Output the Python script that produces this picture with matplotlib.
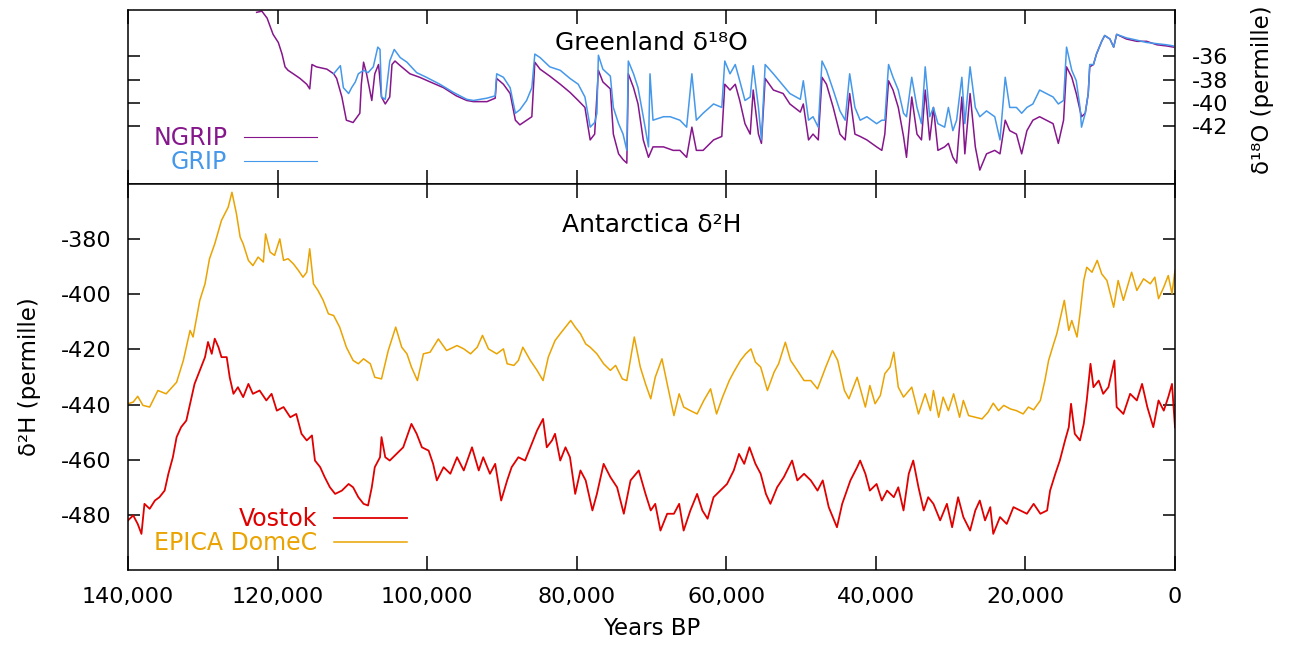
import numpy as np
import matplotlib
matplotlib.use('Agg')
import matplotlib.pyplot as plt
from matplotlib.ticker import FuncFormatter

plt.rcParams['axes.unicode_minus'] = False

# ---- data (ages in kyr BP) ----
ngrip_age = [122.8, 122.1, 121.4, 120.6, 119.9, 119.4, 119.0, 118.6, 117.9, 117.0,
             116.1, 115.7, 115.4, 114.8, 113.4, 112.5, 112.1, 111.4, 110.8, 109.9,
             109.0, 108.8, 108.5, 108.1, 107.4, 107.0, 106.5, 106.1, 105.6, 105.0,
             104.7, 104.3, 103.6, 102.3, 101.0, 99.6, 97.8, 96.1, 94.7, 93.8,
             92.0, 90.9, 90.7, 89.8, 88.9, 88.2, 87.6, 86.7, 86.0, 85.6,
             84.9, 83.6, 82.2, 80.9, 79.8, 78.9, 78.2, 77.6, 77.1, 76.5,
             75.5, 75.1, 74.4, 73.8, 73.3, 73.1, 72.4, 71.8, 71.1, 70.4,
             69.8, 68.4, 67.1, 66.2, 65.3, 64.6, 64.0, 63.1, 61.7, 60.6,
             60.2, 59.5, 58.8, 58.2, 57.5, 56.8, 56.4, 55.7, 55.3, 54.8,
             53.7, 52.4, 51.5, 50.1, 49.7, 49.0, 48.4, 47.7, 47.2, 46.6,
             45.7, 44.8, 44.1, 43.5, 42.8, 42.1, 41.2, 39.9, 39.2, 38.8,
             38.3, 37.7, 37.0, 36.3, 35.9, 35.2, 34.5, 33.9, 33.4, 32.8,
             32.3, 31.7, 30.8, 30.3, 29.7, 29.2, 28.5, 28.1, 27.4, 26.7,
             26.1, 25.2, 24.1, 23.4, 22.7, 22.1, 21.2, 20.5, 19.8, 19.0,
             18.1, 17.2, 16.3, 15.6, 14.9, 14.5, 13.8, 13.2, 12.5, 12.0,
             11.6, 11.4, 10.9, 10.5, 9.8, 9.4, 8.7, 8.2, 7.8, 6.5,
             5.1, 3.8, 2.4, 1.1, 0.2]
ngrip_d18o = [-32.2, -32.1, -32.7, -34.1, -34.8, -35.8, -36.9, -37.2, -37.5, -37.9,
              -38.4, -38.8, -36.7, -36.9, -37.1, -37.5, -37.9, -39.5, -41.5, -41.7,
              -40.9, -38.4, -36.5, -37.5, -39.8, -37.5, -36.7, -39.5, -40.1, -39.5,
              -36.7, -36.4, -36.8, -37.5, -37.8, -38.2, -38.7, -39.4, -39.8, -39.9,
              -39.9, -39.6, -37.9, -38.4, -39.2, -41.5, -41.9, -41.5, -41.2, -36.5,
              -37.1, -37.7, -38.4, -39.1, -39.8, -40.4, -43.2, -42.7, -37.2, -38.2,
              -38.8, -42.7, -44.4, -44.9, -45.2, -37.5, -38.7, -40.1, -43.2, -44.7,
              -43.8, -43.8, -44.1, -44.1, -44.7, -42.1, -44.1, -44.1, -43.2, -42.9,
              -38.4, -38.9, -38.4, -39.8, -41.8, -42.7, -38.9, -42.7, -43.5, -37.9,
              -38.9, -39.2, -40.1, -40.8, -40.1, -43.2, -42.7, -43.2, -37.8, -38.4,
              -40.4, -42.7, -43.2, -39.2, -42.7, -42.9, -43.2, -43.8, -44.1, -42.7,
              -38.1, -38.9, -40.4, -42.9, -44.7, -39.5, -42.7, -43.2, -38.9, -43.2,
              -40.4, -44.1, -43.8, -43.5, -44.7, -45.2, -39.5, -44.4, -39.2, -43.8,
              -45.8, -44.4, -44.1, -44.4, -41.5, -42.4, -42.7, -44.4, -42.4, -41.5,
              -41.2, -41.5, -41.8, -43.5, -41.5, -36.9, -37.8, -39.2, -41.2, -40.9,
              -39.2, -36.9, -36.7, -35.8, -34.7, -34.2, -34.5, -35.2, -34.1, -34.5,
              -34.7, -34.7, -35.0, -35.1, -35.2]

grip_age = [112.5, 111.6, 111.2, 110.5, 110.1, 109.6, 109.2, 108.5, 107.9, 107.2,
            106.6, 106.3, 106.1, 105.6, 105.2, 105.0, 104.4, 103.6, 102.7, 101.4,
            100.1, 98.3, 96.5, 94.7, 93.8, 92.0, 90.9, 90.7, 89.8, 88.9,
            88.2, 87.6, 86.7, 86.0, 85.6, 84.9, 83.6, 82.2, 80.9, 79.8,
            78.9, 78.2, 77.6, 77.3, 77.1, 76.5, 75.5, 75.1, 74.4, 73.8,
            73.3, 73.1, 72.4, 71.8, 71.1, 70.4, 70.2, 69.8, 68.4, 67.5,
            66.2, 65.3, 64.6, 64.0, 63.1, 61.7, 60.6, 60.2, 59.5, 58.8,
            58.2, 57.5, 56.8, 56.4, 55.7, 55.3, 54.8, 53.7, 52.4, 51.5,
            50.1, 49.7, 49.0, 48.4, 47.7, 47.2, 46.6, 45.7, 44.8, 44.1,
            43.5, 42.8, 42.1, 41.2, 39.9, 39.2, 38.8, 38.3, 37.7, 37.0,
            36.3, 35.9, 35.2, 34.5, 33.9, 33.4, 32.8, 32.3, 31.7, 30.8,
            30.3, 29.7, 29.2, 28.5, 28.1, 27.4, 26.7, 26.1, 25.2, 24.1,
            23.4, 22.7, 22.1, 21.2, 20.5, 19.8, 19.0, 18.1, 17.2, 16.3,
            15.6, 14.9, 14.5, 13.8, 13.2, 12.7, 12.5, 12.0, 11.6, 11.4,
            10.9, 10.5, 9.8, 9.4, 8.7, 8.2, 7.8, 6.5, 5.1, 3.8,
            2.4, 1.1, 0.2]
grip_d18o = [-37.5, -36.8, -38.7, -39.2, -38.7, -38.2, -37.5, -37.2, -37.4, -36.9,
             -35.2, -35.4, -39.5, -39.7, -37.5, -36.4, -35.4, -36.1, -36.5, -37.4,
             -37.8, -38.4, -39.1, -39.7, -39.8, -39.6, -39.4, -37.5, -37.8, -38.7,
             -40.9, -40.6, -39.8, -38.7, -35.8, -36.1, -36.9, -37.2, -37.9, -38.4,
             -39.5, -42.1, -41.7, -40.9, -35.9, -37.1, -37.7, -40.4, -41.8, -42.7,
             -44.1, -36.4, -37.5, -38.7, -41.2, -43.8, -37.5, -41.5, -41.2, -41.2,
             -41.5, -42.1, -37.5, -41.5, -40.9, -40.1, -40.4, -36.4, -37.5, -36.7,
             -38.1, -39.8, -39.5, -36.8, -40.4, -43.2, -36.7, -37.5, -38.5, -39.2,
             -39.7, -38.1, -41.5, -41.2, -42.1, -36.4, -37.2, -38.9, -40.7, -41.5,
             -37.5, -40.4, -41.5, -41.2, -41.8, -41.5, -41.5, -36.7, -37.8, -38.9,
             -40.9, -41.2, -37.8, -40.4, -41.8, -36.9, -41.2, -40.4, -41.8, -42.1,
             -40.4, -42.4, -41.5, -37.8, -41.8, -36.9, -40.4, -41.2, -40.7, -41.2,
             -43.2, -37.8, -40.4, -40.4, -40.9, -40.4, -40.1, -38.9, -39.2, -39.5,
             -40.1, -39.8, -35.2, -37.2, -38.1, -40.4, -42.1, -40.9, -39.2, -36.7,
             -36.7, -35.8, -34.7, -34.2, -34.5, -35.2, -34.1, -34.4, -34.6, -34.8,
             -34.9, -35.0, -35.1]

vostok_age = [140.0, 139.3, 138.7, 138.2, 137.8, 137.1, 136.4, 135.8, 135.1, 134.6,
              134.0, 133.5, 132.9, 132.2, 131.7, 131.1, 130.4, 129.7, 129.3, 128.8,
              128.4, 127.9, 127.5, 126.8, 126.4, 125.9, 125.3, 124.6, 123.9, 123.3,
              122.4, 121.5, 120.8, 120.1, 119.2, 118.3, 117.5, 116.8, 116.1, 115.4,
              115.0, 114.3, 113.7, 113.0, 112.3, 111.4, 110.5, 109.9, 109.2, 108.5,
              107.9, 107.4, 107.0, 106.3, 106.1, 105.6, 105.0, 104.1, 103.2, 102.1,
              101.4, 100.7, 99.8, 99.2, 98.7, 97.8, 96.9, 96.0, 95.1, 94.0,
              93.1, 92.5, 91.6, 90.9, 90.1, 89.3, 88.7, 87.8, 86.9, 86.0,
              85.3, 84.5, 84.0, 83.3, 82.9, 82.2, 81.5, 80.9, 80.2, 79.5,
              78.8, 77.9, 77.3, 76.4, 75.5, 74.6, 73.7, 72.8, 71.7, 70.8,
              70.1, 69.5, 68.8, 67.9, 67.0, 66.3, 65.7, 64.8, 63.9, 63.2,
              62.5, 61.7, 60.8, 59.9, 59.0, 58.3, 57.6, 56.9, 56.1, 55.4,
              54.7, 54.1, 53.2, 52.3, 51.2, 50.5, 49.6, 48.7, 47.8, 47.1,
              46.3, 45.2, 44.5, 43.4, 42.5, 42.1, 41.4, 40.8, 39.9, 39.2,
              38.5, 37.6, 37.0, 36.3, 35.6, 35.0, 34.3, 33.6, 33.0, 32.3,
              31.4, 30.5, 29.8, 29.0, 28.3, 27.4, 26.7, 26.1, 25.4, 24.7,
              24.3, 23.4, 22.5, 21.6, 20.7, 19.8, 18.9, 18.0, 17.1, 16.7,
              16.0, 15.4, 14.7, 14.2, 13.9, 13.4, 12.7, 12.2, 11.8, 11.3,
              10.9, 10.2, 9.6, 8.9, 8.1, 7.8, 6.9, 6.0, 5.1, 4.4,
              3.7, 2.9, 2.2, 1.5, 0.9, 0.4, 0.0]
vostok_dD = [-482.0, -480.2, -483.3, -486.9, -476.0, -477.8, -474.8, -473.6, -471.2, -465.1,
             -459.1, -451.8, -448.2, -445.8, -439.7, -432.5, -427.6, -422.8, -417.3, -421.6,
             -416.1, -419.2, -422.8, -422.8, -430.1, -436.1, -433.7, -437.3, -432.5, -436.1,
             -434.9, -438.5, -436.1, -442.2, -440.9, -444.6, -443.4, -450.6, -453.0, -451.2,
             -460.3, -462.7, -466.3, -470.0, -472.4, -471.2, -468.8, -470.0, -473.6, -476.0,
             -476.6, -470.0, -462.7, -459.1, -451.8, -459.1, -460.3, -457.9, -455.5, -447.0,
             -450.6, -455.5, -456.7, -461.5, -467.5, -462.7, -465.1, -459.1, -463.9, -455.5,
             -463.9, -459.1, -465.1, -461.5, -474.8, -467.5, -462.7, -459.1, -460.3, -454.2,
             -449.4, -445.2, -455.5, -453.0, -450.6, -460.3, -455.5, -459.1, -472.4, -463.9,
             -467.5, -478.4, -472.4, -461.5, -466.3, -470.0, -479.6, -467.5, -463.9, -472.4,
             -478.4, -476.0, -485.7, -479.6, -479.6, -476.0, -485.7, -478.4, -472.4, -478.4,
             -481.4, -473.6, -471.2, -468.8, -463.9, -457.9, -461.5, -455.5, -461.5, -465.1,
             -472.4, -476.0, -470.0, -466.3, -460.3, -467.5, -465.1, -467.5, -471.2, -467.5,
             -477.2, -484.5, -476.0, -467.5, -462.7, -460.3, -465.1, -471.2, -468.8, -474.8,
             -471.2, -473.6, -470.0, -478.4, -465.1, -460.3, -470.0, -478.4, -473.6, -476.0,
             -482.0, -476.0, -484.5, -473.6, -480.8, -485.7, -478.4, -474.8, -482.0, -477.2,
             -486.9, -480.8, -483.3, -477.2, -478.4, -479.6, -476.0, -479.6, -478.4, -471.2,
             -465.1, -460.3, -453.0, -448.2, -439.7, -450.6, -453.0, -447.0, -438.5, -425.2,
             -433.7, -431.3, -436.1, -433.7, -424.0, -440.9, -443.4, -436.1, -438.5, -432.5,
             -440.9, -448.2, -438.5, -442.2, -437.3, -432.5, -448.2]

epica_age = [140.0, 139.3, 138.7, 138.0, 137.1, 136.0, 134.9, 133.5, 132.6, 131.7,
             131.3, 130.4, 129.7, 129.1, 128.4, 127.5, 126.6, 126.1, 125.5, 125.0,
             124.6, 123.9, 123.3, 122.6, 121.9, 121.6, 121.0, 120.4, 119.7, 119.2,
             118.6, 117.9, 117.2, 116.6, 116.1, 115.7, 115.2, 114.6, 113.9, 113.2,
             112.5, 111.7, 110.8, 109.9, 109.2, 108.5, 107.6, 107.0, 106.1, 105.2,
             104.2, 103.4, 102.7, 102.1, 101.3, 100.5, 99.6, 98.5, 97.4, 96.0,
             95.1, 94.2, 93.3, 92.6, 91.8, 90.7, 89.8, 89.3, 88.4, 87.8,
             87.2, 86.2, 85.3, 84.5, 83.8, 82.9, 82.2, 81.5, 80.8, 80.2,
             79.5, 78.8, 78.2, 77.3, 76.4, 75.5, 74.8, 73.9, 73.3, 72.3,
             71.5, 70.8, 70.1, 69.5, 68.6, 67.9, 67.0, 66.3, 65.7, 64.8,
             63.9, 63.0, 62.1, 61.3, 60.5, 59.6, 59.0, 58.1, 57.4, 56.7,
             56.1, 55.4, 54.5, 53.6, 53.0, 52.1, 51.4, 50.5, 49.6, 48.7,
             47.8, 46.7, 45.8, 45.1, 44.2, 43.6, 42.5, 41.4, 40.8, 40.1,
             39.4, 38.8, 38.1, 37.6, 37.0, 36.3, 35.2, 34.3, 33.4, 32.7,
             32.3, 31.6, 31.0, 30.3, 29.6, 28.8, 28.3, 27.6, 26.7, 25.8,
             25.0, 24.3, 23.6, 22.9, 22.0, 21.2, 20.3, 19.6, 18.9, 18.0,
             17.4, 16.9, 16.3, 15.8, 15.4, 14.8, 14.2, 13.8, 13.1, 12.7,
             12.2, 11.8, 11.1, 10.4, 9.8, 9.1, 8.2, 7.6, 6.9, 5.8,
             5.1, 4.2, 3.3, 2.7, 2.2, 1.5, 0.9, 0.4, 0.0]
epica_dD = [-439.7, -439.1, -437.0, -440.3, -440.9, -434.9, -436.1, -431.9, -424.0, -413.1,
            -415.5, -402.2, -396.2, -387.1, -381.7, -373.2, -368.4, -363.0, -370.8, -379.3,
            -381.7, -387.7, -389.6, -386.5, -388.3, -378.1, -384.7, -385.9, -379.9, -387.7,
            -387.1, -388.9, -391.4, -393.8, -392.0, -383.5, -396.2, -398.6, -402.2, -407.1,
            -407.7, -411.9, -419.2, -424.0, -425.2, -423.4, -425.2, -430.1, -430.7, -420.4,
            -411.9, -419.2, -421.6, -426.4, -431.3, -421.6, -421.0, -416.2, -420.4, -418.6,
            -419.8, -421.6, -419.2, -414.9, -419.8, -421.6, -419.8, -425.2, -425.8, -424.0,
            -419.2, -424.0, -427.6, -431.3, -422.8, -416.8, -414.3, -411.9, -409.5, -411.9,
            -414.3, -418.0, -419.2, -421.6, -425.2, -427.6, -425.8, -430.7, -431.3, -415.5,
            -426.4, -432.5, -437.9, -430.1, -423.4, -432.5, -444.0, -436.1, -440.9, -442.2,
            -443.4, -438.5, -434.3, -443.4, -437.3, -431.3, -428.2, -424.0, -421.6, -419.8,
            -424.6, -426.4, -434.9, -428.2, -425.2, -417.4, -424.0, -427.6, -431.3, -431.3,
            -434.3, -426.4, -420.4, -424.0, -434.9, -437.9, -430.1, -440.9, -433.1, -439.7,
            -436.7, -428.8, -426.4, -421.0, -433.7, -437.3, -433.7, -443.4, -436.1, -442.2,
            -434.9, -444.6, -437.3, -442.2, -436.1, -444.6, -438.5, -444.0, -444.6, -445.2,
            -442.8, -439.5, -442.2, -440.3, -441.6, -442.2, -443.4, -440.9, -441.9, -438.5,
            -431.3, -424.0, -418.6, -414.3, -409.5, -402.2, -413.1, -409.5, -415.5, -407.1,
            -395.0, -390.2, -392.0, -387.7, -392.6, -395.0, -404.7, -395.0, -402.2, -392.0,
            -398.6, -394.4, -396.2, -393.8, -401.6, -397.4, -393.2, -399.8, -391.4]

top_ticks = [-36, -38, -40, -42]
bot_ticks = [-380, -400, -420, -440, -460, -480]
x_ticks = [140000, 120000, 100000, 80000, 60000, 40000, 20000, 0]

c_ngrip = '#86168c'
c_grip = '#4598ea'
c_vostok = '#e00000'
c_epica = '#eaa300'

yr = lambda a: np.array(a) * 1000.0

fig = plt.figure(figsize=(12.93, 6.5), dpi=100)
ax_top = fig.add_axes([0.09899, 0.71692, 0.80974, 0.26770])
ax_bot = fig.add_axes([0.09899, 0.12308, 0.80974, 0.59385])

# ---- Greenland ----
l_ngrip, = ax_top.plot(yr(ngrip_age), ngrip_d18o, color=c_ngrip, lw=1.1)
l_grip, = ax_top.plot(yr(grip_age), grip_d18o, color=c_grip, lw=1.1)
ax_top.set_xlim(140000, 0)
ax_top.set_ylim(-47, -32)
ax_top.set_xticks(x_ticks)
ax_top.set_xticklabels([])
ax_top.set_yticks(top_ticks)
ax_top.yaxis.tick_right()
ax_top.tick_params(axis='y', which='both', left=True, right=True,
                   labelleft=False, labelright=True)
ax_top.tick_params(axis='x', top=True, bottom=True)
ax_top.yaxis.set_label_position('right')
ax_top.set_ylabel('δ¹⁸O (permille)', fontsize=16.5)
ax_top.yaxis.set_label_coords(1.0726, 0.54)
ax_top.text(0.5, 0.81, 'Greenland δ¹⁸O', transform=ax_top.transAxes,
            ha='center', va='center', fontsize=18)
leg = ax_top.legend([l_ngrip, l_grip], ['NGRIP', 'GRIP'], loc='center right',
                    bbox_to_anchor=(0.1805, 0.195), frameon=False, markerfirst=False,
                    fontsize=17, handlelength=3.1, handletextpad=0.7,
                    labelspacing=0.0, borderpad=0, borderaxespad=0)
for t, c in zip(leg.get_texts(), [c_ngrip, c_grip]):
    t.set_color(c)
for h in leg.get_lines():
    h.set_linewidth(0.8)

# ---- Antarctica ----
l_vostok, = ax_bot.plot(yr(vostok_age), vostok_dD, color=c_vostok, lw=1.3)
l_epica, = ax_bot.plot(yr(epica_age), epica_dD, color=c_epica, lw=1.1)
ax_bot.set_xlim(140000, 0)
ax_bot.set_ylim(-500, -360)
ax_bot.set_xticks(x_ticks)
ax_bot.xaxis.set_major_formatter(FuncFormatter(lambda v, p: f'{v:,.0f}'))
ax_bot.set_yticks(bot_ticks)
ax_bot.tick_params(axis='y', left=True, right=True)
ax_bot.tick_params(axis='x', top=True, bottom=True)
ax_bot.set_xlabel('Years BP', fontsize=16.5)
ax_bot.xaxis.set_label_coords(0.5, -0.122)
ax_bot.set_ylabel('δ²H (permille)', fontsize=16.5)
ax_bot.yaxis.set_label_coords(-0.083, 0.5)
ax_bot.text(0.5, 0.894, 'Antarctica δ²H', transform=ax_bot.transAxes,
            ha='center', va='center', fontsize=18)
leg2 = ax_bot.legend([l_vostok, l_epica], ['Vostok', 'EPICA DomeC'], loc='center right',
                     bbox_to_anchor=(0.2665, 0.101), frameon=False, markerfirst=False,
                     fontsize=17, handlelength=3.1, handletextpad=0.7,
                     labelspacing=0.0, borderpad=0, borderaxespad=0)
for t, c in zip(leg2.get_texts(), [c_vostok, c_epica]):
    t.set_color(c)

for ax in (ax_top, ax_bot):
    ax.tick_params(axis='both', direction='in', labelsize=16, width=1.1, pad=12)
    ax.tick_params(axis='x', length=10)
    ax.tick_params(axis='y', length=8.5)
    for s in ax.spines.values():
        s.set_linewidth(1.1)

fig.savefig('out.png', dpi=100)
